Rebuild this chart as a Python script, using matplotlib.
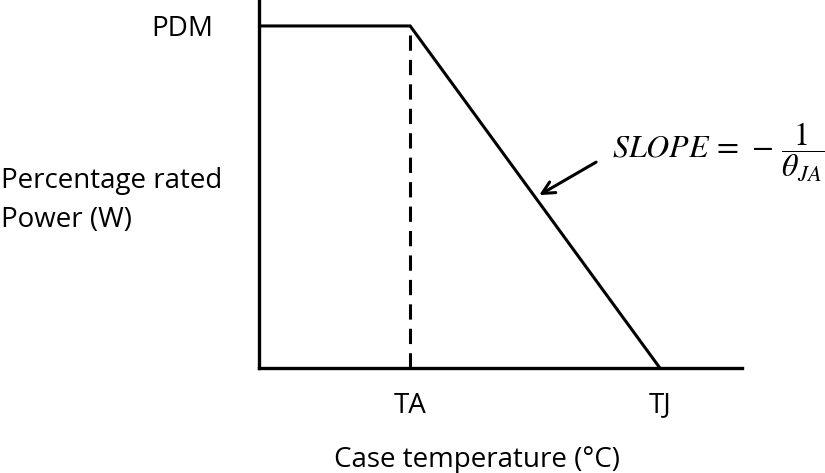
import numpy as np
import matplotlib
matplotlib.use("Agg")
import matplotlib.pyplot as plt

plt.rcParams['font.family'] = ['Open Sans', 'DejaVu Sans']
plt.rcParams['mathtext.fontset'] = 'stix'

# derating curve: flat at PDM until TA, then linear down to zero at TJ
temps = [0.0, 31.3, 83.0]
power = [0.932, 0.932, 0.0]
tick_pos = [31.3, 83.0]
tick_labels = ['TA', 'TJ']
pdm_level = 0.932

fig = plt.figure(figsize=(8.25, 4.73), dpi=100)
ax = fig.add_axes([259 / 825, 1 - 368 / 473, 483 / 825, 367 / 473])

ax.plot(temps, power, color='black', lw=2.2, solid_joinstyle='miter')
ax.plot([temps[1], temps[1]], [0, pdm_level], color='black', lw=2.2, dashes=(5, 3))

ax.set_xlim(0, 100)
ax.set_ylim(0, 1)
for s in ['top', 'right']:
    ax.spines[s].set_visible(False)
for s in ['left', 'bottom']:
    ax.spines[s].set_linewidth(2.4)

ax.set_xticks(tick_pos)
ax.set_xticklabels(tick_labels, fontsize=20)
ax.tick_params(axis='x', length=0, pad=17)
ax.set_yticks([pdm_level])
ax.set_yticklabels(['PDM'], fontsize=20)
ax.tick_params(axis='y', length=0, pad=33)

fig.text(1 / 825, 1 - 188 / 473, 'Percentage rated', fontsize=20,
         ha='left', va='baseline')
fig.text(1 / 825, 1 - 227 / 473, 'Power (W)', fontsize=20,
         ha='left', va='baseline')
fig.text(477 / 825, 1 - 467 / 473, 'Case temperature (°C)', fontsize=20,
         ha='center', va='baseline')

# slope annotation
ax.annotate('', xy=(58.0, 0.471), xytext=(69.8, 0.561),
            arrowprops=dict(arrowstyle='->', lw=2.2, color='black',
                            mutation_scale=22, shrinkA=0, shrinkB=0))
fig.text(612 / 825, 1 - 157 / 473, r'$SLOPE\,=\,-\,\dfrac{1}{\theta_{JA}}$',
         fontsize=23, ha='left', va='baseline')

fig.savefig('out.png', dpi=100)
